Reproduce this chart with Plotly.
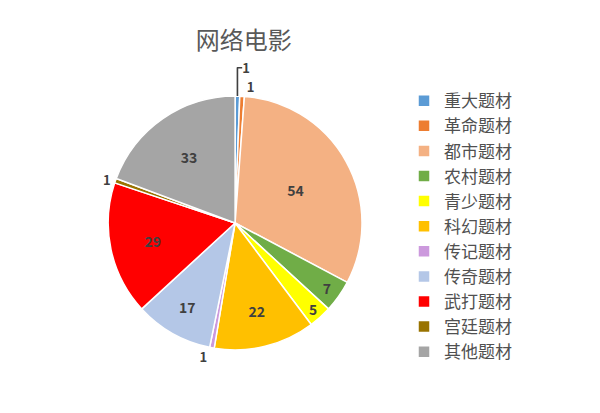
import plotly.graph_objects as go

labels = ["重大题材", "革命题材", "都市题材", "农村题材", "青少题材", "科幻题材",
          "传记题材", "传奇题材", "武打题材", "宫廷题材", "其他题材"]
values = [1, 1, 54, 7, 5, 22, 1, 17, 29, 1, 33]
colors = ["#5B9BD5", "#ED7D31", "#F4B183", "#70AD47", "#FFFF00", "#FFC000",
          "#CC99DD", "#B4C7E7", "#FF0000", "#997300", "#A5A5A5"]

positions = ["outside" if v == 1 else "inside" for v in values]

fig = go.Figure(go.Pie(
    labels=labels,
    values=values,
    sort=False,
    direction="clockwise",
    rotation=0,
    marker=dict(colors=colors, line=dict(color="white", width=1.5)),
    texttemplate="<b>%{value}</b>",
    textposition=positions,
    insidetextorientation="horizontal",
    textfont=dict(family="Noto Sans CJK SC", size=14, color="#404040"),
    outsidetextfont=dict(family="Noto Sans CJK SC", size=13, color="#404040"),
    domain=dict(x=[0.167, 0.59], y=[0.172, 0.787]),
))

fig.update_layout(
    width=600, height=413,
    margin=dict(l=0, r=0, t=0, b=0),
    paper_bgcolor="white",
    title=dict(text="网络电影", x=0.393, xanchor="center", y=0.92, yanchor="middle",
               font=dict(family="Noto Sans CJK SC", size=24, color="#595959")),
    legend=dict(x=0.66, y=0.818, xanchor="left", yanchor="top",
                font=dict(family="Noto Sans CJK SC", size=17, color="#505050"),
                itemwidth=30, tracegroupgap=0),
)

fig.write_html("out.html")
